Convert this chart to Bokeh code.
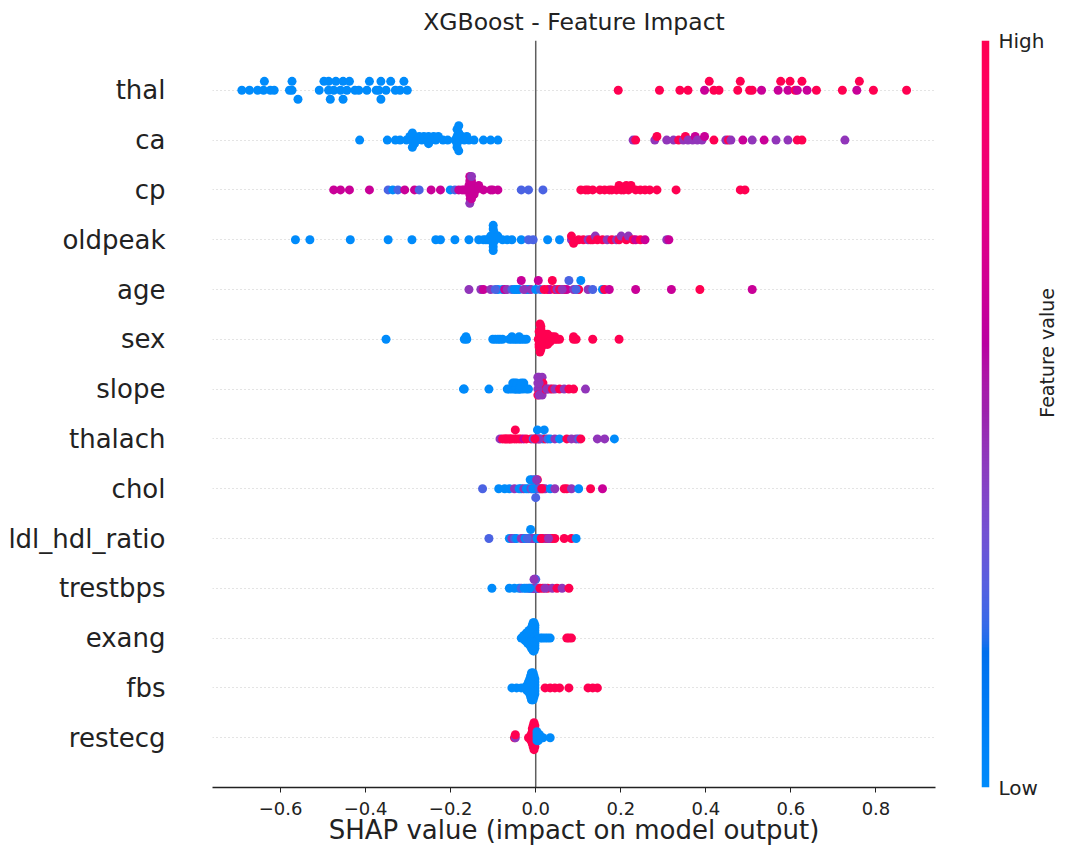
import numpy as np
from bokeh.plotting import figure
from bokeh.models import (ColumnDataSource, LinearColorMapper, FixedTicker, Span,
                          Range1d, CustomJSTickFormatter, LinearAxis)
from bokeh.layouts import row
from bokeh.embed import file_html
from bokeh.resources import INLINE

# ---------------- data ----------------
features = ["thal", "ca", "cp", "oldpeak", "age", "sex", "slope", "thalach",
            "chol", "ldl_hdl_ratio", "trestbps", "exang", "fbs", "restecg"]

# feature value levels (0 = low, 1 = high)
B, BP, P, M, R = 0.0, 0.25, 0.45, 0.65, 1.0

thal_shap = [-0.691, -0.673, -0.654, -0.640, -0.638, -0.624, -0.615, -0.579, -0.573, -0.573,
             -0.559, -0.509, -0.498, -0.487, -0.487, -0.483, -0.475, -0.470, -0.459, -0.453,
             -0.453, -0.444, -0.438, -0.425, -0.416, -0.397, -0.391, -0.375, -0.369, -0.364,
             -0.364, -0.352, -0.341, -0.330, -0.319, -0.310, -0.302,
             0.194, 0.291, 0.339, 0.358, 0.397, 0.408, 0.419, 0.431, 0.475, 0.481,
             0.503, 0.509, 0.531, 0.570, 0.576, 0.593, 0.598, 0.610, 0.615, 0.626,
             0.638, 0.660, 0.721, 0.755, 0.761, 0.794, 0.872]
thal_val = [B] * 37 + [R, R, R, R, M, R, R, R, R, R, R, R, M, M, R, M, R, R, M, R, M, R, R, M, R, R, R]

ca_shap = [-0.414, -0.349, -0.330, -0.319, -0.304, -0.296, -0.291, -0.285, -0.285, -0.280,
           -0.274, -0.268, -0.263, -0.257, -0.252, -0.252, -0.246, -0.240, -0.235, -0.229,
           -0.218, -0.207, -0.190, -0.185, -0.185, -0.181, -0.179, -0.173, -0.168, -0.162,
           -0.157, -0.145, -0.123, -0.106, -0.089, -0.185, -0.185, -0.181, -0.181, -0.290,
           -0.290,
           0.229, 0.235, 0.280, 0.285, 0.308, 0.324, 0.336, 0.347, 0.352, 0.358,
           0.369, 0.375, 0.380, 0.391, 0.397, 0.419, 0.447, 0.453, 0.459, 0.487,
           0.509, 0.537, 0.565, 0.593, 0.615, 0.626, 0.727]
ca_val = [B] * 41 + [P, R, P, R, P, P, R, P, R, P, P, M, P, P, M, R, P, R, P, M, P, M, P, P, R, R, P]

cp_shap = [-0.475, -0.459, -0.438, -0.391, -0.347, -0.336, -0.324, -0.308, -0.285, -0.274,
           -0.246, -0.224, -0.201, -0.190, -0.181, -0.173, -0.168, -0.159, -0.157, -0.155,
           -0.155, -0.154, -0.151, -0.148, -0.145, -0.140, -0.134, -0.123, -0.106, -0.101,
           -0.089, -0.034, -0.017, 0.017, -0.155, -0.155, -0.151, -0.151, -0.151,
           0.106, 0.117, 0.123, 0.134, 0.151, 0.162, 0.173, 0.179, 0.190, 0.196,
           0.201, 0.207, 0.213, 0.218, 0.224, 0.235, 0.246, 0.257, 0.268, 0.285,
           0.330, 0.481, 0.492]
cp_val = [M, M, M, M, BP, B, BP, M, M, BP, M, M, B, BP, M, M, M, M, M, M,
          M, M, M, M, M, M, M, M, M, M, M, BP, BP, BP, M, P, M, M, P] + [R] * 23

oldpeak_shap = [-0.565, -0.531, -0.436, -0.347, -0.291, -0.235, -0.224, -0.190, -0.157, -0.134,
                -0.123, -0.117, -0.112, -0.106, -0.103, -0.101, -0.100, -0.098, -0.095, -0.089,
                -0.078, -0.067, -0.056, -0.034, -0.100, -0.100, -0.100, -0.100,
                -0.017, -0.006, 0.028, 0.056,
                0.084, 0.084, 0.089, 0.101, 0.112, 0.123, 0.129, 0.134, 0.140, 0.145,
                0.157, 0.168, 0.179, 0.190, 0.196, 0.201, 0.213, 0.218, 0.229, 0.235,
                0.246, 0.257, 0.308, 0.313]
oldpeak_val = [B] * 28 + [BP, BP, B, B] + [P, R, R, R, R, P, R, R, P, R, R, P, R, P, R, P, R, P,
                                          R, M, R, M, P, M]

age_shap = [-0.157, -0.129, -0.123, -0.106, -0.089, -0.078, -0.073, -0.067, -0.056, -0.045,
            -0.039, -0.034, -0.022, -0.017, -0.011, 0.000, 0.006, 0.011, 0.028, 0.034,
            0.039, 0.045, 0.050, 0.056, 0.067, 0.073, 0.078, 0.089, 0.101, 0.106,
            0.123, 0.134, 0.157, 0.162, 0.173, 0.235, 0.319, 0.386, 0.509,
            -0.095, -0.050, -0.028, 0.020, 0.062, 0.095]
age_val = [P, P, M, P, B, B, M, P, BP, B, B, M, BP, B, P, B, M, BP, R, M,
           R, R, P, R, R, M, BP, P, R, B, P, BP, B, R, M, M, M, R, M,
           BP, B, P, R, P, BP]

sex_shap = [-0.352, -0.168, -0.164, -0.162, -0.101, -0.095, -0.089, -0.084, -0.078, -0.062,
            -0.056, -0.056, -0.050, -0.045, -0.039, -0.039, -0.034, -0.028, -0.022,
            0.006, 0.009, 0.011, 0.011, 0.011, 0.014, 0.014, 0.017, 0.017, 0.017,
            0.019, 0.019, 0.022, 0.022, 0.022, 0.025, 0.025, 0.028, 0.028, 0.028,
            0.031, 0.034, 0.034, 0.039, 0.039, 0.045, 0.045, 0.050, 0.056, 0.089,
            0.089, 0.095, 0.134, 0.196, 0.008, 0.008, 0.008, 0.012, 0.012, 0.012,
            0.010, 0.010]
sex_val = [B] * 19 + [R] * 42

slope_shap = [-0.170, -0.168, -0.110, -0.067, -0.062, -0.056, -0.054, -0.050, -0.050, -0.047,
              -0.045, -0.045, -0.040, -0.039, -0.036, -0.034, -0.030, -0.028, -0.022, -0.017,
              0.009, 0.011, 0.011, 0.013, 0.013, 0.015, 0.015, 0.017, 0.017, 0.020,
              0.022, 0.026, 0.028, 0.034, 0.039, 0.045, 0.056, 0.067, 0.078, 0.089, 0.117,
              0.005, 0.005, 0.005, 0.005, 0.008, 0.008, 0.008]
slope_val = [B] * 20 + [P, P, P, P, P, P, P, P, R, P, R, P, P, P, R, P, R, P, R, R, P,
                        P, P, R, P, P, P, P]

thalach_shap = [-0.084, -0.078, -0.073, -0.067, -0.062, -0.056, -0.050, -0.045, -0.039, -0.034,
                -0.028, -0.022, -0.011, -0.006, 0.000, 0.006, 0.011, 0.017, 0.022, 0.028,
                0.034, 0.045, 0.056, 0.073, 0.084, 0.095, 0.101, 0.106, 0.145, 0.162,
                0.185, -0.070, -0.060, -0.048, 0.002, 0.004, 0.008, -0.002, 0.020]
thalach_val = [P, R, R, R, R, R, R, R, R, R, M, R, R, BP, P, R, P, B, R, BP,
               B, P, B, R, P, P, BP, R, P, P, B, R, R, R, P, B, P, R, B]

chol_shap = [-0.125, -0.087, -0.073, -0.062, -0.050, -0.039, -0.034, -0.028, -0.022, -0.017,
             -0.011, -0.009, -0.006, 0.000, 0.002, 0.006, 0.011, 0.017, 0.022, 0.034,
             0.045, 0.067, 0.073, 0.084, 0.101, 0.129, 0.157,
             -0.004, -0.008, 0.004, -0.013, 0.008, 0.014, -0.002, 0.002, 0.000]
chol_val = [BP, B, B, B, P, B, B, P, B, B, P, BP, B, R, P, P, R, R, P, B,
            P, R, R, P, B, R, M, B, P, R, B, BP, R, B, P, BP]

ldl_hdl_ratio_shap = [-0.110, -0.062, -0.056, -0.050, -0.045, -0.034, -0.028, -0.022, -0.017,
                      -0.011, -0.006, 0.000, 0.006, 0.011, 0.017, 0.022, 0.028, 0.034, 0.039,
                      0.045, 0.067, 0.084, 0.095,
                      -0.030, -0.025, -0.015, -0.008, 0.003, 0.013, 0.030, -0.020, -0.012]
ldl_hdl_ratio_val = [BP, B, P, BP, B, P, B, P, B, B, B, P, R, P, R, P, R, P, R, R, R, R, B,
                     P, B, BP, P, B, R, P, BP, B]

trestbps_shap = [-0.103, -0.062, -0.050, -0.039, -0.034, -0.022, -0.017, -0.011, -0.008, -0.006,
                 -0.002, 0.000, 0.002, 0.006, 0.017, 0.028, 0.039, 0.050, 0.062, 0.078,
                 -0.004, 0.004, -0.014, 0.010, 0.022, -0.027, -0.002, 0.000, -0.004]
trestbps_val = [B, B, B, B, BP, B, BP, P, P, P, BP, B, P, P, R, R, P, R, P, R,
                P, BP, B, R, P, B, P, BP, P]

exang_shap = ([-0.002] * 10 + [-0.004] * 12 + [-0.006] * 12 + [-0.008] * 10 + [-0.010] * 9 +
              [-0.013] * 7 + [-0.016] * 6 + [-0.019] * 5 + [-0.022] * 4 + [-0.025] * 3 +
              [-0.028] * 2 + [-0.031, -0.034] +
              [0.011, 0.016, 0.022, 0.028, 0.034, 0.073, 0.078, 0.084])
exang_val = [B] * 87 + [R] * 8

fbs_shap = ([-0.002] * 6 + [-0.004] * 8 + [-0.006] * 10 + [-0.008] * 10 + [-0.010] * 10 +
            [-0.012] * 8 + [-0.014] * 6 + [-0.017] * 4 + [-0.020] * 3 +
            [-0.024, -0.028, -0.034, -0.045, -0.056] +
            [0.022, 0.034, 0.045, 0.056, 0.078, 0.123, 0.134, 0.145])
fbs_val = [B] * 70 + [R] * 8

restecg_shap = ([-0.050, -0.048, -0.048, -0.017] + [-0.011] * 3 + [-0.008] * 6 + [-0.006] * 8 +
                [-0.004] * 10 + [-0.002] * 8 +
                [0.003] * 4 + [0.006] * 3 + [0.009] * 2 + [0.012, 0.017, 0.034])
restecg_val = [R, P, R] + [R] * 36 + [B] * 12

shap_by_feature = [thal_shap, ca_shap, cp_shap, oldpeak_shap, age_shap, sex_shap, slope_shap,
                   thalach_shap, chol_shap, ldl_hdl_ratio_shap, trestbps_shap, exang_shap,
                   fbs_shap, restecg_shap]
val_by_feature = [thal_val, ca_val, cp_val, oldpeak_val, age_val, sex_val, slope_val,
                  thalach_val, chol_val, ldl_hdl_ratio_val, trestbps_val, exang_val,
                  fbs_val, restecg_val]

x_ticks = [-0.6, -0.4, -0.2, 0.0, 0.2, 0.4, 0.6, 0.8]
colorbar_labels = ["Low", "High"]
colorbar_title = "Feature value"


# ---------------- SHAP red-blue colormap (LCH interpolation) ----------------
def lch2rgb(l, c, h):
    a = c * np.cos(h)
    b = c * np.sin(h)
    fy = (l + 16.0) / 116.0
    fx = fy + a / 500.0
    fz = fy - b / 200.0

    def finv(t):
        return np.where(t > 6 / 29, t ** 3, 3 * (6 / 29) ** 2 * (t - 4 / 29))

    X = 0.95047 * finv(fx)
    Y = 1.0 * finv(fy)
    Z = 1.08883 * finv(fz)
    m = np.array([[3.2404542, -1.5371385, -0.4985314],
                  [-0.9692660, 1.8760108, 0.0415560],
                  [0.0556434, -0.2040259, 1.0572252]])
    lin = m @ np.vstack([X, Y, Z])
    lin = np.clip(lin, 0, None)
    rgb = np.where(lin > 0.0031308, 1.055 * lin ** (1 / 2.4) - 0.055, 12.92 * lin)
    return np.clip(rgb, 0, 1).T


nsteps = 256
blue_lch = [54.0, 70.0, 4.6588]
red_lch = [54.0, 90.0, 0.35470565 + 2 * np.pi]
l_mid = 40.0
l_vals = np.concatenate([np.linspace(blue_lch[0], l_mid, nsteps // 2),
                         np.linspace(l_mid, red_lch[0], nsteps // 2)])
c_vals = np.linspace(blue_lch[1], red_lch[1], nsteps)
h_vals = np.linspace(blue_lch[2], red_lch[2], nsteps)
rgbs = lch2rgb(l_vals, c_vals, h_vals)
palette = ["#%02x%02x%02x" % tuple(int(round(v * 255)) for v in c) for c in rgbs]
mapper = LinearColorMapper(palette=palette, low=0, high=1)


# ---------------- beeswarm layout (as in shap) ----------------
def swarm_offsets(shaps, row_height=0.4, nbins=100):
    s = np.asarray(shaps, float)
    quant = np.round(nbins * (s - s.min()) / (s.max() - s.min() + 1e-8))
    inds = np.argsort(quant, kind="stable")
    ys = np.zeros(len(s))
    layer, last = 0, None
    for ind in inds:
        if quant[ind] != last:
            layer = 0
        ys[ind] = np.ceil(layer / 2) * ((layer % 2) * 2 - 1)
        layer += 1
        last = quant[ind]
    ys *= 0.9 * (row_height / np.max(ys + 1))
    return ys


n = len(features)
xs, ys, fv = [], [], []
for i, (sh, vv) in enumerate(zip(shap_by_feature, val_by_feature)):
    k = min(len(sh), len(vv))
    sh, vv = sh[:k], vv[:k]
    pos = n - 1 - i
    off = swarm_offsets(sh)
    xs.extend(sh)
    ys.extend(list(pos + off))
    fv.extend(vv)

src = ColumnDataSource(dict(x=xs, y=ys, fv=fv))

# ---------------- main figure ----------------
FONT = "DejaVu Sans"
TXT = "#222222"
H = 847
TOP, BOTTOM = 40, 60
MAIN_W = 940
p = figure(width=MAIN_W, height=H, x_range=Range1d(-0.76, 0.94), y_range=Range1d(-1, n),
           output_backend="svg", toolbar_location=None,
           min_border_left=212, min_border_right=5, min_border_top=TOP,
           min_border_bottom=BOTTOM, title="XGBoost - Feature Impact")
p.title.align = "center"
p.title.text_font = FONT
p.title.text_font_size = "23.5px"
p.title.text_font_style = "normal"
p.title.text_color = TXT
p.title.standoff = 10
p.outline_line_color = None
p.background_fill_color = "white"

p.xgrid.visible = False
p.ygrid.ticker = FixedTicker(ticks=list(range(n)))
p.ygrid.grid_line_color = "#c8c8c8"
p.ygrid.grid_line_dash = "1 3"
p.ygrid.grid_line_width = 1

p.xaxis.ticker = FixedTicker(ticks=x_ticks)
p.xaxis.formatter = CustomJSTickFormatter(code="return tick.toFixed(1).replace('-', '\u2212');")
p.xaxis.axis_label = "SHAP value (impact on model output)"
p.xaxis.axis_label_text_font = FONT
p.xaxis.axis_label_text_font_size = "26px"
p.xaxis.axis_label_text_font_style = "normal"
p.xaxis.axis_label_text_color = TXT
p.xaxis.axis_label_standoff = -3
p.xaxis.major_label_text_font = FONT
p.xaxis.major_label_text_font_size = "18px"
p.xaxis.major_label_text_color = TXT
p.xaxis.major_label_standoff = 9
p.xaxis.major_tick_out = 5
p.xaxis.major_tick_in = 0
p.xaxis.minor_tick_line_color = None
p.xaxis.axis_line_color = "#222222"
p.xaxis.axis_line_width = 1.3
p.xaxis.major_tick_line_color = "#222222"

p.yaxis.ticker = FixedTicker(ticks=list(range(n)))
p.yaxis.major_label_overrides = {n - 1 - i: f for i, f in enumerate(features)}
p.yaxis.axis_line_color = None
p.yaxis.major_tick_line_color = None
p.yaxis.minor_tick_line_color = None
p.yaxis.major_tick_out = 0
p.yaxis.major_tick_in = 0
p.yaxis.major_label_standoff = 47
p.yaxis.major_label_text_font = FONT
p.yaxis.major_label_text_font_size = "26px"
p.yaxis.major_label_text_color = TXT

zero = Span(location=0, dimension="height", line_color="#5f5f5f", line_width=1.5, level="underlay")
p.add_layout(zero)

p.scatter("x", "y", source=src, size=9, fill_color={"field": "fv", "transform": mapper},
          line_color=None, fill_alpha=1.0)

# ---------------- colour bar figure (frame = the bar itself) ----------------
CB_W = 1072 - MAIN_W
BAR_LEFT = 981 - MAIN_W
BAR_W = 10
cb = figure(width=CB_W, height=H, x_range=Range1d(0, 1), y_range=Range1d(0, 1),
            output_backend="svg", toolbar_location=None, x_axis_location=None,
            y_axis_location=None, min_border_left=BAR_LEFT,
            min_border_right=CB_W - BAR_LEFT - BAR_W,
            min_border_top=TOP, min_border_bottom=BOTTOM)
cb.outline_line_color = None
cb.grid.visible = False
grad = np.linspace(0, 1, 256).reshape(256, 1)
cb.image(image=[grad], x=0, y=0, dw=1, dh=1, color_mapper=mapper)

ax_hl = LinearAxis(ticker=FixedTicker(ticks=[0, 1]),
                   formatter=CustomJSTickFormatter(
                       args=dict(labels=colorbar_labels),
                       code="return tick > 0.5 ? labels[1] : labels[0];"),
                   axis_line_color=None, major_tick_line_color=None,
                   minor_tick_line_color=None, major_tick_in=0, major_tick_out=0,
                   major_label_standoff=9, major_label_text_font=FONT,
                   major_label_text_font_size="20px", major_label_text_color=TXT)
cb.add_layout(ax_hl, "right")
ax_title = LinearAxis(ticker=FixedTicker(ticks=[0.495]),
                      formatter=CustomJSTickFormatter(args=dict(t=colorbar_title),
                                                      code="return t;"),
                      axis_line_color=None, major_tick_line_color=None,
                      minor_tick_line_color=None, major_tick_in=0, major_tick_out=0,
                      major_label_standoff=0, major_label_orientation=np.pi / 2,
                      major_label_text_font=FONT, major_label_text_font_size="19px",
                      major_label_text_color=TXT)
cb.add_layout(ax_title, "right")

layout = row(p, cb)
open("out.html", "w").write(file_html(layout, INLINE))
